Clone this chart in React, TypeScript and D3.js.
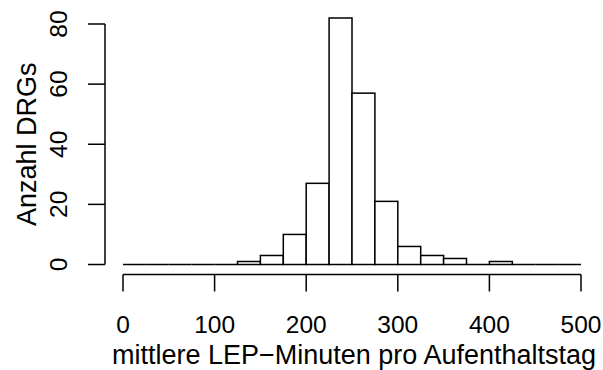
import React from "react";
import * as d3 from "d3";

const binStarts = [0, 25, 50, 75, 100, 125, 150, 175, 200, 225, 250, 275, 300, 325, 350, 375, 400, 425, 450, 475];
const counts = [0, 0, 0, 0, 0, 1, 3, 10, 27, 82, 57, 21, 6, 3, 2, 0, 1, 0, 0, 0];
const binWidth = 25;
const xTicks = [0, 100, 200, 300, 400, 500];
const yTicks = [0, 20, 40, 60, 80];
const xTitle = "mittlere LEP\u2212Minuten pro Aufenthaltstag";
const yTitle = "Anzahl DRGs";

export default function App() {
  const W = 603, H = 370;
  const x = d3.scaleLinear().domain([0, 500]).range([123, 581]);
  const y = d3.scaleLinear().domain([0, 80]).range([264.5, 24]);
  const axisY = 274.5;
  const axisX = 105;
  const font = "'Liberation Sans', Arial, Helvetica, sans-serif";
  const fs = 24.5;
  const fsTitle = 27;
  return (
    <svg width={W} height={H} style={{ position: "absolute", left: 0, top: 0, background: "#fff" }}>
      <g fill="#fff" stroke="#000" strokeWidth={1.5}>
        {binStarts.map((b, i) =>
          counts[i] > 0 ? (
            <rect key={i} x={x(b)} y={y(counts[i])} width={x(b + binWidth) - x(b)} height={y(0) - y(counts[i])} />
          ) : (
            <line key={i} x1={x(b)} x2={x(b + binWidth)} y1={y(0)} y2={y(0)} />
          )
        )}
      </g>
      <g stroke="#000" strokeWidth={1.5} fill="none">
        <line x1={x(0)} x2={x(500)} y1={axisY} y2={axisY} />
        {xTicks.map((t) => (
          <line key={t} x1={x(t)} x2={x(t)} y1={axisY} y2={axisY + 17} />
        ))}
        <line x1={axisX} x2={axisX} y1={y(0)} y2={y(80)} />
        {yTicks.map((t) => (
          <line key={t} x1={axisX} x2={axisX - 17} y1={y(t)} y2={y(t)} />
        ))}
      </g>
      <g fontFamily={font} fontSize={fs} fill="#000" textAnchor="middle">
        {xTicks.map((t) => (
          <text key={t} x={x(t)} y={333}>{t}</text>
        ))}
        {yTicks.map((t) => (
          <text key={t} transform={`translate(67,${y(t)}) rotate(-90)`}>{t}</text>
        ))}
      </g>
      <g fontFamily={font} fontSize={fsTitle} fill="#000" textAnchor="middle">
        <text x={(x(0) + x(500)) / 2 + 2} y={364}>{xTitle}</text>
        <text transform={`translate(36,${(y(0) + y(80)) / 2}) rotate(-90)`}>{yTitle}</text>
      </g>
    </svg>
  );
}
